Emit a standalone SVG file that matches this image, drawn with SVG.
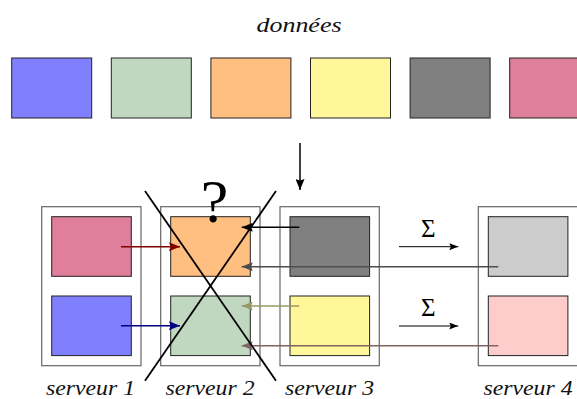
<svg xmlns="http://www.w3.org/2000/svg" width="577" height="399" viewBox="0 0 577 399">
<defs>
<style>
.sq{stroke:#222;stroke-width:1}
.box{fill:#fff;stroke:#666;stroke-width:1.2}
.lbl{font-family:"Liberation Serif",serif;font-style:italic;font-size:21px;fill:#111}
.arr{fill:none;stroke-width:1.5}
.cross{stroke:#000;stroke-width:1.8;fill:none}
</style>
<marker id="m-black" markerUnits="userSpaceOnUse" markerWidth="11" markerHeight="9" refX="11" refY="4.5" orient="auto"><path d="M0,0 L11,4.5 L0,9 L1.5,4.5 z" fill="#000"/></marker>
<marker id="m-red" markerUnits="userSpaceOnUse" markerWidth="11" markerHeight="9" refX="11" refY="4.5" orient="auto"><path d="M0,0 L11,4.5 L0,9 L1.5,4.5 z" fill="#800000"/></marker>
<marker id="m-navy" markerUnits="userSpaceOnUse" markerWidth="11" markerHeight="9" refX="11" refY="4.5" orient="auto"><path d="M0,0 L11,4.5 L0,9 L1.5,4.5 z" fill="#000080"/></marker>
<marker id="m-gray" markerUnits="userSpaceOnUse" markerWidth="11" markerHeight="9" refX="11" refY="4.5" orient="auto"><path d="M0,0 L11,4.5 L0,9 L1.5,4.5 z" fill="#4d4d4d"/></marker>
<marker id="m-olive" markerUnits="userSpaceOnUse" markerWidth="11" markerHeight="9" refX="11" refY="4.5" orient="auto"><path d="M0,0 L11,4.5 L0,9 L1.5,4.5 z" fill="#999966"/></marker>
<marker id="m-brown" markerUnits="userSpaceOnUse" markerWidth="11" markerHeight="9" refX="11" refY="4.5" orient="auto"><path d="M0,0 L11,4.5 L0,9 L1.5,4.5 z" fill="#806464"/></marker>
<marker id="m-small" markerUnits="userSpaceOnUse" markerWidth="9" markerHeight="7" refX="9" refY="3.5" orient="auto"><path d="M0,0 L9,3.5 L0,7 L1.5,3.5 z" fill="#000"/></marker>
</defs>
<rect width="577" height="399" fill="#fff"/>

<g id="donnees">
<text class="lbl" x="299" y="31.7" text-anchor="middle" textLength="85" lengthAdjust="spacingAndGlyphs">données</text>
<rect class="sq" x="11.7" y="58" width="80" height="60" fill="#8080ff"/>
<rect class="sq" x="111.3" y="58" width="80" height="60" fill="#c0d8c0"/>
<rect class="sq" x="210.9" y="58" width="80" height="60" fill="#ffbf80"/>
<rect class="sq" x="310.5" y="58" width="80" height="60" fill="#fff799"/>
<rect class="sq" x="410.1" y="58" width="80" height="60" fill="#808080"/>
<rect class="sq" x="509.7" y="58" width="80" height="60" fill="#df7f9b"/>
</g>

<g id="serveur1">
<rect class="box" x="41.7" y="206.7" width="99.3" height="159"/>
<rect class="sq" x="51.7" y="216.7" width="79.6" height="59.6" fill="#df7f9b"/>
<rect class="sq" x="51.7" y="296" width="79.6" height="59.6" fill="#8080ff"/>
<text class="lbl" x="90.5" y="394.5" text-anchor="middle" textLength="89" lengthAdjust="spacingAndGlyphs">serveur 1</text>
</g>

<g id="serveur2">
<rect class="box" x="160.7" y="206.7" width="99.3" height="159"/>
<rect class="sq" x="170.7" y="216.7" width="79.6" height="59.6" fill="#ffbf80"/>
<rect class="sq" x="170.7" y="296" width="79.6" height="59.6" fill="#c0d8c0"/>
<text class="lbl" x="210" y="394.5" text-anchor="middle" textLength="89" lengthAdjust="spacingAndGlyphs">serveur 2</text>
</g>

<g id="serveur3">
<rect class="box" x="280" y="206.7" width="99.3" height="159"/>
<rect class="sq" x="290" y="216.7" width="79.6" height="59.6" fill="#808080"/>
<rect class="sq" x="290" y="296" width="79.6" height="59.6" fill="#fff799"/>
<text class="lbl" x="329.5" y="394.5" text-anchor="middle" textLength="89" lengthAdjust="spacingAndGlyphs">serveur 3</text>
</g>

<g id="serveur4">
<rect class="box" x="478.3" y="206.7" width="99.3" height="159"/>
<rect class="sq" x="488.3" y="216.7" width="79.6" height="59.6" fill="#cccccc"/>
<rect class="sq" x="488.3" y="296" width="79.6" height="59.6" fill="#ffcccc"/>
<text class="lbl" x="528" y="394.5" text-anchor="middle" textLength="89" lengthAdjust="spacingAndGlyphs">serveur 4</text>
</g>

<g id="connectors">
<path class="arr" d="M300,143 V190" stroke="#000" stroke-width="1.7" marker-end="url(#m-black)"/>
<path class="arr" d="M121,246.7 H180" stroke="#800000" marker-end="url(#m-red)"/>
<path class="arr" d="M121,325.7 H180" stroke="#000080" marker-end="url(#m-navy)"/>
<path class="arr" d="M299.3,227.3 H241.7" stroke="#000" marker-end="url(#m-black)"/>
<path class="arr" d="M498.3,266.7 H241.7" stroke="#4d4d4d" marker-end="url(#m-gray)"/>
<path class="arr" d="M299.3,306 H241.7" stroke="#999966" marker-end="url(#m-olive)"/>
<path class="arr" d="M498.3,345.7 H241.7" stroke="#806464" marker-end="url(#m-brown)"/>
<path d="M399,246.7 H458.3" stroke="#000" stroke-width="1" fill="none" marker-end="url(#m-small)"/>
<path d="M399,326 H458.3" stroke="#000" stroke-width="1" fill="none" marker-end="url(#m-small)"/>
</g>

<g id="sigma">
<text x="428.3" y="236.7" text-anchor="middle" font-family="Liberation Serif, serif" font-size="25" fill="#000">Σ</text>
<text x="428.3" y="316" text-anchor="middle" font-family="Liberation Serif, serif" font-size="25" fill="#000">Σ</text>
</g>

<g id="panne">
<path class="cross" d="M145,191 L276,380.7"/>
<path class="cross" d="M276,191 L145,380.7"/>
<text x="214.5" y="221.5" text-anchor="middle" font-family="Liberation Serif, serif" font-size="62" fill="#000">?</text>
</g>
</svg>
